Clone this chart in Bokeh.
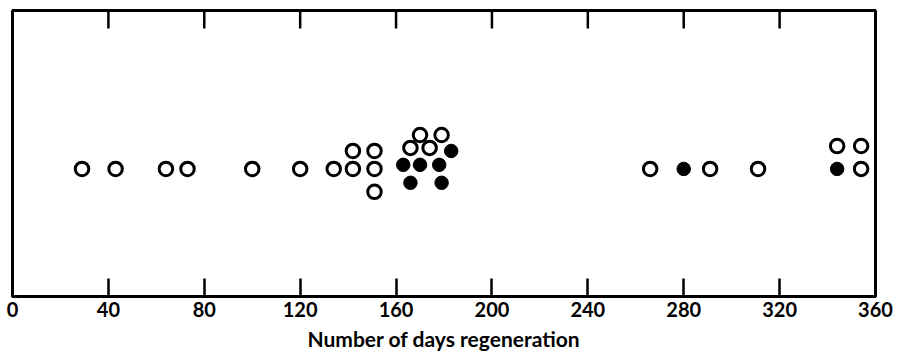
import math
from bokeh.plotting import figure
from bokeh.models import Range1d, LinearAxis, FixedTicker, ColumnDataSource
from bokeh.embed import file_html
from bokeh.resources import INLINE

# Days of regeneration (x) and stacking level (y, arbitrary units)
open_days = [29, 43, 64, 73, 100, 120, 134, 142, 151, 142, 151, 151,
             166, 174, 170, 179, 266, 291, 311, 354, 344, 354]
open_level = [0, 0, 0, 0, 0, 0, 0, 0, 0, 1.06, 1.06, -1.35,
              1.24, 1.24, 2.0, 2.0, 0, 0, 0, 0, 1.35, 1.35]
filled_days = [163, 170, 178, 183, 166, 179, 280, 344]
filled_level = [0.24, 0.24, 0.24, 1.06, -0.82, -0.82, 0, 0]
x_ticks = [0, 40, 80, 120, 160, 200, 240, 280, 320, 360]
x_title = "Number of days regeneration"

FONT = "Lato"
Y_MIN, Y_MAX = -7.53, 9.35

p = figure(width=898, height=353, output_backend="svg", toolbar_location=None,
           x_range=Range1d(0, 360), y_range=Range1d(Y_MIN, Y_MAX),
           min_border_left=12, min_border_right=23, min_border_top=10,
           min_border_bottom=56)
p.xaxis.visible = False
p.yaxis.visible = False
p.xgrid.visible = False
p.ygrid.visible = False
p.outline_line_color = "black"
p.outline_line_width = 3
p.background_fill_color = "white"
p.border_fill_color = "white"

bottom = LinearAxis(ticker=FixedTicker(ticks=x_ticks), axis_label=x_title)
bottom.major_tick_in = 18
bottom.major_tick_out = 0
bottom.minor_tick_in = 0
bottom.minor_tick_out = 0
bottom.major_tick_line_width = 2.5
bottom.major_tick_line_color = "black"
bottom.axis_line_width = 3
bottom.axis_line_color = "black"
bottom.major_label_text_font = FONT
bottom.major_label_text_font_style = "bold"
bottom.major_label_text_font_size = "20px"
bottom.major_label_text_color = "black"
bottom.major_label_standoff = 5
bottom.axis_label_text_font = FONT
bottom.axis_label_text_font_style = "bold"
bottom.axis_label_text_font_size = "21px"
bottom.axis_label_text_color = "black"
bottom.axis_label_standoff = 6
p.add_layout(bottom, "below")

# inward ticks along the top edge of the frame
p.ray(x=x_ticks, y=[Y_MAX] * len(x_ticks), length=18, length_units="screen",
      angle=-math.pi / 2, line_color="black", line_width=2.5)

open_src = ColumnDataSource(dict(x=open_days, y=open_level))
filled_src = ColumnDataSource(dict(x=filled_days, y=filled_level))

p.scatter("x", "y", source=open_src, marker="circle", size=13.5,
          fill_color="white", line_color="black", line_width=3)
p.scatter("x", "y", source=filled_src, marker="circle", size=13.5,
          fill_color="black", line_color="black", line_width=1)

open("out.html", "w").write(file_html(p, INLINE))
